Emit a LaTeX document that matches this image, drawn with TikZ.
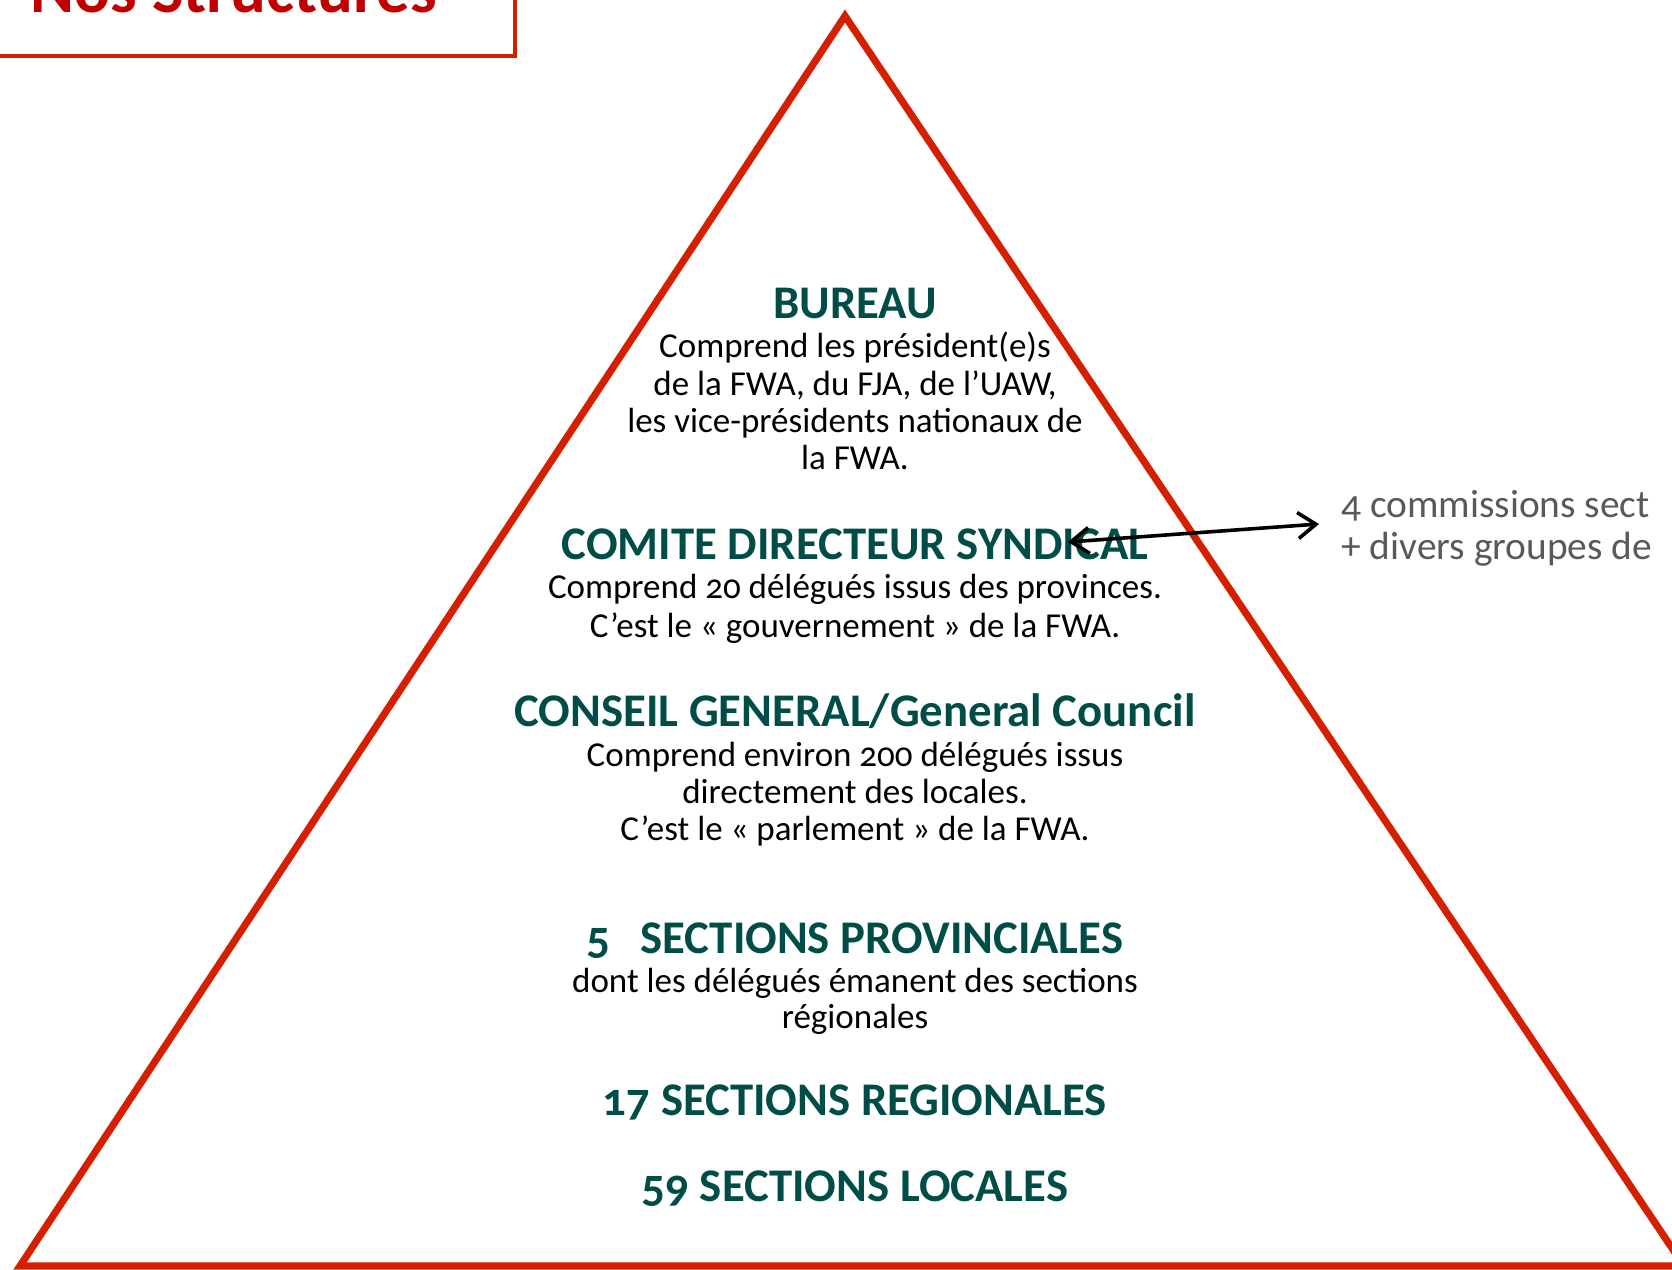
\documentclass[tikz,border=0pt]{standalone}
\usepackage{fontspec}
\setmainfont{Carlito}[Numbers=OldStyle]
\usetikzlibrary{arrows.meta}
\definecolor{tricol}{RGB}{212,32,0}
\definecolor{boxcol}{RGB}{204,34,0}
\definecolor{ttlcol}{RGB}{192,0,0}
\definecolor{hdcol}{RGB}{0,77,72}
\definecolor{grcol}{RGB}{89,89,89}
\tikzset{
  hd/.style={anchor=base, inner sep=0pt, text=hdcol, font=\bfseries\fontsize{23.4}{27}\selectfont},
  bd/.style={anchor=base, inner sep=0pt, text=black, font=\fontsize{17.5}{20}\selectfont},
  gr/.style={anchor=base west, inner sep=0pt, text=grcol, font=\fontsize{19.7}{22}\selectfont},
  arr/.style={{Straight Barb[length=9pt,width=13pt]}-{Straight Barb[length=9pt,width=13pt]}, line width=1.8pt, black}
}
\begin{document}
\begin{tikzpicture}[x=0.5pt,y=-0.5pt]
\useasboundingbox (0,0) rectangle (1672,1270);
\clip (0,0) rectangle (1672,1270);
% title box
\draw[boxcol, line width=2pt] (-20,-20) rectangle (515,56);
\node[anchor=base west, inner sep=0pt, text=ttlcol, font=\bfseries\fontsize{33.4}{40}\selectfont] (title) at (30,12.5) {Nos Structures};
% pyramid
\draw[tricol, line width=3.6pt, line join=miter] (845,16) -- (20,1266) -- (1684,1266) -- cycle;
% texts
\node[hd] (h1) at (855,318) {BUREAU};
\node[bd] (b11) at (855,357) {Comprend les président(e)s};
\node[bd] (b12) at (855,395) {de la FWA, du FJA, de l’UAW,};
\node[bd] (b13) at (855,432) {les vice-présidents nationaux de};
\node[bd] (b14) at (855,469) {la FWA.};
\node[hd] (h2) at (855,559) {COMITE DIRECTEUR SYNDICAL};
\node[bd] (b21) at (855,598) {Comprend 20 délégués issus des provinces.};
\node[bd] (b22) at (855,637) {C’est le « gouvernement » de la FWA.};
\node[hd] (h3) at (855,726) {CONSEIL GENERAL/General Council};
\node[bd] (b31) at (855,766) {Comprend environ 200 délégués issus};
\node[bd] (b32) at (855,803) {directement des locales.};
\node[bd] (b33) at (855,840) {C’est le « parlement » de la FWA.};
\node[hd] (h4) at (855,953) {5\hspace{15pt}SECTIONS PROVINCIALES};
\node[bd] (b41) at (855,992) {dont les délégués émanent des sections};
\node[bd] (b42) at (855,1028) {régionales};
\node[hd] (h5) at (855,1115) {17 SECTIONS REGIONALES};
\node[hd] (h6) at (855,1201) {59 SECTIONS LOCALES};
% side text
\node[gr] (g1) at (1341,517) {4 commissions sect};
\node[gr] (g2) at (1341,559) {+ divers groupes de};
% arrow
\coordinate (arrL) at (1068,542);
\coordinate (arrR) at (1319,524);
\draw[arr] (arrL) -- (arrR);
\end{tikzpicture}
\end{document}
